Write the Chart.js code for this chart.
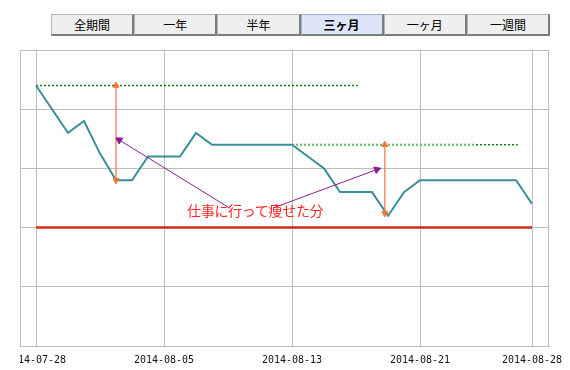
<!DOCTYPE html>
<html>
<head>
<meta charset="utf-8">
<script src="https://cdn.jsdelivr.net/npm/chart.js@4/dist/chart.umd.min.js"></script>
<style>
  html, body { margin: 0; padding: 0; background: #fff; }
  body { width: 570px; height: 370px; position: relative; overflow: hidden; }
  #btns { position: absolute; left: 51px; top: 14px; width: 499px; height: 22px; display: flex; }
  #btns div {
    flex: 1 1 0; box-sizing: border-box; height: 22px;
    background: #efefef; border-top: 1px solid #b4b4b4; border-left: 1px solid #b4b4b4;
    border-right: 2px solid #7d7d7d; border-bottom: 2px solid #7d7d7d;
    font: 12px "Noto Sans CJK JP", sans-serif; color: #000;
    text-align: center; line-height: 19px;
  }
  #btns div.sel { background: #dce6f8; font-weight: bold; border-top-color: #9fb0cc; border-left-color: #9fb0cc; }
  #wrap { position: absolute; left: 20px; top: 0; width: 550px; height: 370px; }
  #note { position: absolute; left: 187px; top: 202px; font: 14px "Noto Sans CJK JP", sans-serif;
    line-height: 16px; color: #ff2626; letter-spacing: -0.3px; white-space: nowrap; }
</style>
</head>
<body>
<div id="btns"></div>
<div id="wrap"><canvas id="c" width="550" height="370"></canvas></div>
<div id="note"></div>
<script>
// ---- data ----
const periodButtons = ['全期間', '一年', '半年', '三ヶ月', '一ヶ月', '一週間'];
const selectedButton = '三ヶ月';
const tickDays = [0, 8, 16, 24, 31];
const tickLabels = ['2014-07-28', '2014-08-05', '2014-08-13', '2014-08-21', '2014-08-28'];
const weightDays = [0, 2, 3, 4, 5, 6, 7, 9, 10, 11, 16, 18, 19, 21, 22, 23, 24, 30, 31];
const weightValues = [64.4, 63.6, 63.8, 63.25, 62.8, 62.8, 63.2, 63.2, 63.6, 63.4, 63.4, 63.0, 62.6, 62.6, 62.2, 62.6, 62.8, 62.8, 62.4];
const targetDays = [0, 31];
const targetValue = 62.0;
const startRefDays = [0, 20.1];
const startRefValue = 64.4;
const workRefDays = [16, 30.1];
const workRefLightDays = [16, 27.4];
const workRefValue = 63.4;
const arrow1Day = 5, arrow1Values = [64.4, 62.8];
const arrow2Day = 21.8, arrow2Values = [63.4, 62.24];
const pointer1Days = [12.1, 5.2], pointer1Values = [62.33, 63.48];
const pointer2Days = [14.8, 21.3], pointer2Values = [62.33, 62.98];
const noteText = '仕事に行って痩せた分';

// ---- buttons / note ----
const btns = document.getElementById('btns');
periodButtons.forEach(t => {
  const d = document.createElement('div');
  d.textContent = t;
  if (t === selectedButton) d.className = 'sel';
  btns.appendChild(d);
});
document.getElementById('note').textContent = noteText;

const pts = (xs, ys) => xs.map((x, i) => ({ x: x, y: Array.isArray(ys) ? ys[i] : ys }));

const ORANGE = '#f5743a', PURPLE = '#8a1f8f', GRID = '#bdbdbd';

function arrowRotation(ctx) {
  const chart = ctx.chart;
  const xs = chart.scales.x, ys = chart.scales.y;
  const d = ctx.dataset.data;
  if (!xs || !ys || !d || d.length < 2) return 0;
  const dx = xs.getPixelForValue(d[1].x) - xs.getPixelForValue(d[0].x);
  const dy = ys.getPixelForValue(d[1].y) - ys.getPixelForValue(d[0].y);
  return Math.atan2(dx, -dy) * 180 / Math.PI;
}

const frame = {
  id: 'frame',
  afterDraw(chart) {
    const a = chart.chartArea, c = chart.ctx;
    c.save();
    c.strokeStyle = GRID; c.lineWidth = 1;
    c.strokeRect(Math.round(a.left) + 0.5, Math.round(a.top) + 0.5,
      Math.round(a.right - a.left) - 1, Math.round(a.bottom - a.top));
    c.restore();
  }
};

new Chart(document.getElementById('c'), {
  type: 'line',
  data: {
    datasets: [
      { data: pts(weightDays, weightValues), borderColor: '#3b8f98', borderWidth: 2, pointRadius: 0, tension: 0, order: 5 },
      { data: pts(targetDays, targetValue), borderColor: '#d42a1c', borderWidth: 2.5, pointRadius: 0, order: 9 },
      { data: pts(startRefDays, startRefValue), borderColor: '#0b7a0b', borderWidth: 1.5, borderDash: [2, 2], pointRadius: 0, order: 8 },
      { data: pts(workRefDays, workRefValue), borderColor: '#0b7a0b', borderWidth: 1.5, borderDash: [2, 2], pointRadius: 0, order: 8 },
      { data: pts(workRefLightDays, workRefValue), borderColor: '#6cc46c', borderWidth: 2, borderDash: [2, 2], pointRadius: 0, order: 7 },
      { data: pts([arrow1Day, arrow1Day], arrow1Values), borderColor: ORANGE, borderWidth: 1.2, pointStyle: 'triangle',
        pointRadius: 3.5, pointBorderWidth: 1, pointBackgroundColor: ORANGE, pointBorderColor: ORANGE, pointRotation: [0, 180], order: 2 },
      { data: pts([arrow2Day, arrow2Day], arrow2Values), borderColor: ORANGE, borderWidth: 1.2, pointStyle: 'triangle',
        pointRadius: 3.5, pointBorderWidth: 1, pointBackgroundColor: ORANGE, pointBorderColor: ORANGE, pointRotation: [0, 180], order: 2 },
      { data: pts(pointer1Days, pointer1Values), borderColor: PURPLE, borderWidth: 1, pointStyle: 'triangle',
        pointRadius: [0, 4], pointBorderWidth: 1, pointBackgroundColor: PURPLE, pointBorderColor: PURPLE, pointRotation: arrowRotation, order: 1 },
      { data: pts(pointer2Days, pointer2Values), borderColor: PURPLE, borderWidth: 1, pointStyle: 'triangle',
        pointRadius: [0, 4], pointBorderWidth: 1, pointBackgroundColor: PURPLE, pointBorderColor: PURPLE, pointRotation: arrowRotation, order: 1 }
    ]
  },
  options: {
    responsive: false,
    animation: false,
    devicePixelRatio: 1,
    layout: { autoPadding: false, padding: { top: 50, right: 21, bottom: 4, left: 0 } },
    plugins: { legend: { display: false }, tooltip: { enabled: false } },
    elements: { line: { fill: false, tension: 0 } },
    scales: {
      x: {
        type: 'linear', min: -1, max: 32.06,
        afterBuildTicks: (s) => { s.ticks = tickDays.map(v => ({ value: v })); },
        afterFit: (s) => { s.paddingLeft = 0; s.paddingRight = 0; s.height = 20; },
        ticks: {
          maxRotation: 0, autoSkip: false, padding: 8, color: '#111',
          font: { family: '"DejaVu Sans Mono", monospace', size: 10 },
          callback: (v) => { const i = tickDays.indexOf(v); return i >= 0 ? tickLabels[i] : ''; }
        },
        grid: { color: GRID, lineWidth: 1, drawTicks: false },
        border: { color: GRID }
      },
      y: {
        type: 'linear', min: 60, max: 65,
        afterFit: (s) => { s.width = 0; s.paddingTop = 0; s.paddingBottom = 0; },
        ticks: { display: false, stepSize: 1 },
        grid: { color: GRID, lineWidth: 1, drawTicks: false },
        border: { color: GRID }
      }
    }
  },
  plugins: [frame]
});
</script>
</body>
</html>
